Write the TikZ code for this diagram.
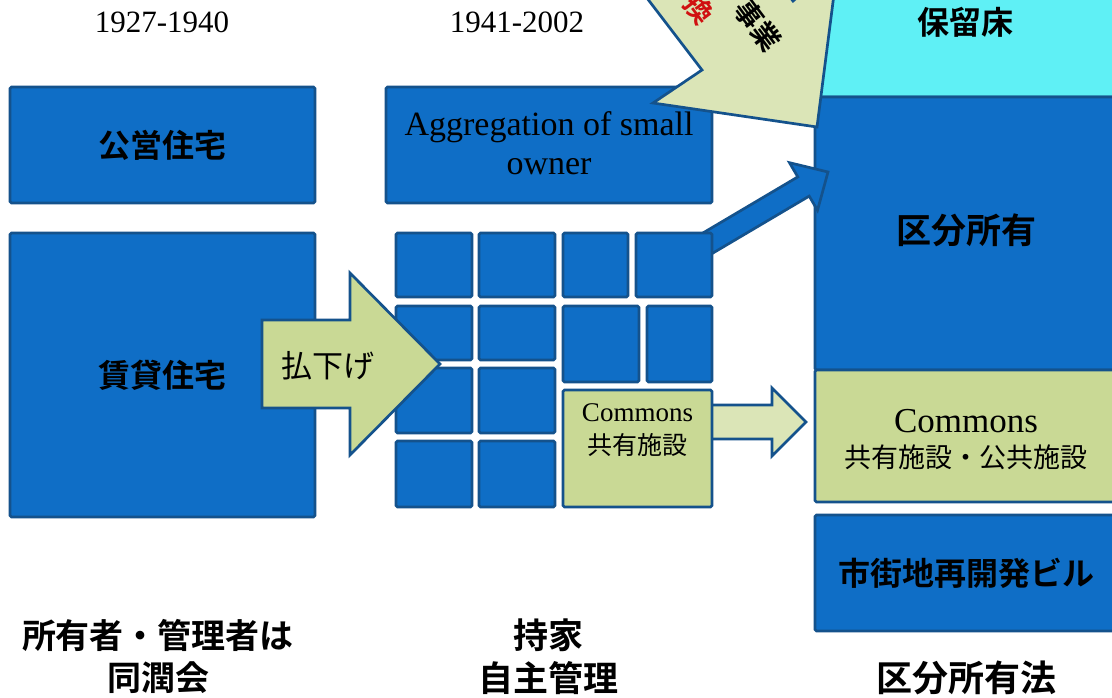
\documentclass[tikz,border=0pt]{standalone}
\usepackage{fontspec}
\setmainfont{Liberation Serif}
\newfontfamily\jp{Noto Sans CJK JP}[BoldFont={Noto Sans CJK JP Bold}]
\definecolor{bfill}{HTML}{0F6EC6}
\definecolor{bline}{HTML}{14528C}
\definecolor{gfill}{HTML}{C9D995}
\definecolor{lgfill}{HTML}{DBE5B7}
\definecolor{cyfill}{HTML}{5FF0F5}
\definecolor{redt}{HTML}{D01010}
\tikzset{
  box/.style={draw=bline, line width=2.7pt, rounded corners=1.5pt, inner sep=0pt},
  bluebox/.style={box, fill=bfill},
  greenbox/.style={box, fill=gfill},
  cyanbox/.style={box, fill=cyfill},
  blockarrow/.style={draw=bline, line width=2.7pt, line join=miter},
  jpt/.style={font={\jp\bfseries\fontsize{#1}{#1}\selectfont}, inner sep=0pt},
  jpr/.style={font={\jp\fontsize{#1}{#1}\selectfont}, inner sep=0pt},
  lat/.style={font={\fontsize{#1}{#1}\selectfont}, inner sep=0pt},
}
\begin{document}
\begin{tikzpicture}[x=1pt,y=-1pt]
\useasboundingbox (0,0) rectangle (1112,697);
\clip (0,0) rectangle (1112,697);
\fill[white] (0,0) rectangle (1112,697);

% right column
\node[cyanbox, minimum width=302pt, minimum height=107pt] (hosince) at (966,43.5) {};
\node[jpt=32] (horyu) at (965,22) {保留床};
\node[bluebox, minimum width=302pt, minimum height=273pt] (kubun) at (966,233.5) {};
\node[jpt=35] (kubuntxt) at (966,230) {区分所有};
\node[greenbox, minimum width=302pt, minimum height=132pt] (combig) at (966,436) {};
\node[lat=35] (combig1) at (966,421) {Commons};
\node[jpr=27] (combig2) at (966,457) {共有施設・公共施設};
\node[bluebox, minimum width=302pt, minimum height=116pt] (shigai) at (966,573) {};
\node[jpt=32] (shigaitxt) at (966,573) {市街地再開発ビル};

% blue arrow from grid to kubun
\coordinate (ba1) at (694.3,238.1);
\coordinate (ba2) at (797.8,176.9);
\coordinate (ba3) at (789.5,162.7);
\coordinate (ba4) at (828,172);
\coordinate (ba5) at (817.5,210.3);
\coordinate (ba6) at (809.2,196.1);
\coordinate (ba7) at (705.7,257.3);
\draw[blockarrow, fill=bfill] (ba1) -- (ba2) -- (ba3) -- (ba4) -- (ba5) -- (ba6) -- (ba7) -- cycle;

% left column
\node[bluebox, minimum width=305pt, minimum height=116pt] (kouei) at (162.5,145) {};
\node[jpt=32] (koueitxt) at (162.5,145) {公営住宅};
\node[bluebox, minimum width=305pt, minimum height=284pt] (chintai) at (162.5,375) {};
\node[jpt=32] (chintaitxt) at (162.5,375) {賃貸住宅};

% middle column
\node[bluebox, minimum width=326pt, minimum height=116pt] (aggr) at (549,145) {};
\node[lat=34] (aggr1) at (549,127) {Aggregation of small};
\node[lat=34] (aggr2) at (549,167) {owner};

\node[bluebox, minimum width=76pt, minimum height=64pt] (g11) at (434,265) {};
\node[bluebox, minimum width=76pt, minimum height=64pt] (g12) at (517,265) {};
\node[bluebox, minimum width=65pt, minimum height=64pt] (g13) at (595.5,265) {};
\node[bluebox, minimum width=76pt, minimum height=64pt] (g14) at (674,265) {};
\node[bluebox, minimum width=76pt, minimum height=54pt] (g21) at (434,333) {};
\node[bluebox, minimum width=76pt, minimum height=54pt] (g22) at (517,333) {};
\node[bluebox, minimum width=76pt, minimum height=76pt] (g23) at (601,344) {};
\node[bluebox, minimum width=65pt, minimum height=76pt] (g24) at (679.5,344) {};
\node[bluebox, minimum width=76pt, minimum height=65pt] (g31) at (434,400.5) {};
\node[bluebox, minimum width=76pt, minimum height=65pt] (g32) at (517,400.5) {};
\node[bluebox, minimum width=76pt, minimum height=66pt] (g41) at (434,474) {};
\node[bluebox, minimum width=76pt, minimum height=66pt] (g42) at (517,474) {};

% commons arrow
\coordinate (ca1) at (700,405);
\coordinate (ca2) at (772,405);
\coordinate (ca3) at (772,388);
\coordinate (ca4) at (806,422);
\coordinate (ca5) at (772,456);
\coordinate (ca6) at (772,439);
\coordinate (ca7) at (700,439);
\draw[blockarrow, fill=lgfill] (ca1) -- (ca2) -- (ca3) -- (ca4) -- (ca5) -- (ca6) -- (ca7) -- cycle;

\node[greenbox, minimum width=149pt, minimum height=117pt] (comsmall) at (637.5,448.5) {};
\node[lat=27] (comsmall1) at (637.5,413) {Commons};
\node[jpr=25] (comsmall2) at (637.5,445) {共有施設};

% haraisage arrow
\coordinate (ha1) at (262,320);
\coordinate (ha2) at (350,320);
\coordinate (ha3) at (350,273);
\coordinate (ha4) at (440,364);
\coordinate (ha5) at (350,455);
\coordinate (ha6) at (350,408);
\coordinate (ha7) at (262,408);
\draw[blockarrow, fill=gfill] (ha1) -- (ha2) -- (ha3) -- (ha4) -- (ha5) -- (ha6) -- (ha7) -- cycle;
\node[jpr=31] (harai) at (328,366) {払下げ};

% top arrow (cropped)
\coordinate (ta1) at (611,-49);
\coordinate (ta2) at (702,70);
\coordinate (ta3) at (653,103);
\coordinate (ta4) at (817,127);
\coordinate (ta5) at (838,-37);
\coordinate (ta6) at (793,1);
\coordinate (ta7) at (702,-118);
\draw[blockarrow, fill=lgfill] (ta1) -- (ta2) -- (ta3) -- (ta4) -- (ta5) -- (ta6) -- (ta7) -- cycle;
\node[jpt=28, rotate=-53, text=redt] (kan) at (699,9) {換};
\node[jpt=28, rotate=-53] (jigyo) at (758,25) {事業};

% headings
\node[lat=31] (y1) at (162,22) {1927-1940};
\node[lat=31] (y2) at (517,22) {1941-2002};

% bottom labels
\node[jpt=34] (b11) at (158,635) {所有者・管理者は};
\node[jpt=34] (b12) at (158,678) {同潤会};
\node[jpt=35] (b21) at (548,635) {持家};
\node[jpt=35] (b22) at (548,678) {自主管理};
\node[jpt=36] (b3) at (966,678) {区分所有法};
\end{tikzpicture}
\end{document}
